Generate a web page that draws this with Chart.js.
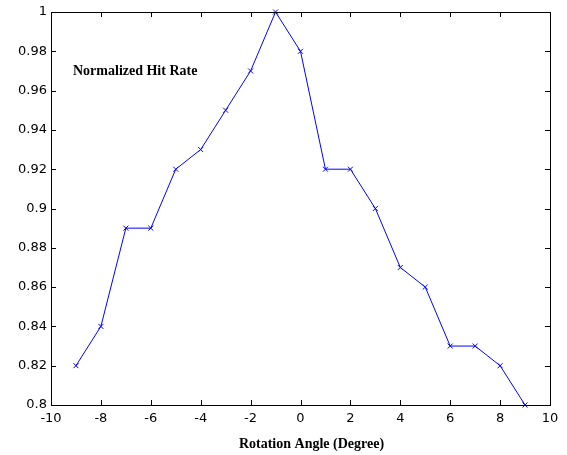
<!DOCTYPE html>
<html>
<head>
<meta charset="utf-8">
<script src="https://cdn.jsdelivr.net/npm/chart.js@4"></script>
<style>
  html, body { margin: 0; padding: 0; background: #fff; }
  #chart { display: block; }
</style>
</head>
<body>
<canvas id="chart" width="567" height="455"></canvas>
<script>
const angles = [-9, -8, -7, -6, -5, -4, -3, -2, -1, 0, 1, 2, 3, 4, 5, 6, 7, 8, 9];
const hitRate = [0.82, 0.84, 0.89, 0.89, 0.92, 0.93, 0.95, 0.97, 1.00, 0.98,
                 0.92, 0.92, 0.90, 0.87, 0.86, 0.83, 0.83, 0.82, 0.80];
const xTicks = [-10, -8, -6, -4, -2, 0, 2, 4, 6, 8, 10];
const yTicks = [0.8, 0.82, 0.84, 0.86, 0.88, 0.9, 0.92, 0.94, 0.96, 0.98, 1];

// box round the plot, inward ticks on all four sides, and the two text labels
const framePlugin = {
  id: 'frame',
  afterDraw(chart) {
    const { ctx, chartArea: a, scales: { x, y } } = chart;
    ctx.save();
    ctx.strokeStyle = '#000';
    ctx.lineWidth = 1;
    ctx.strokeRect(a.left + 0.5, a.top + 0.5, a.right - a.left, a.bottom - a.top);
    ctx.beginPath();
    const len = 5;
    xTicks.forEach(v => {
      const px = Math.round(x.getPixelForValue(v)) + 0.5;
      ctx.moveTo(px, a.bottom); ctx.lineTo(px, a.bottom - len);
      ctx.moveTo(px, a.top); ctx.lineTo(px, a.top + len);
    });
    yTicks.forEach(v => {
      const py = Math.round(y.getPixelForValue(v)) + 0.5;
      ctx.moveTo(a.left, py); ctx.lineTo(a.left + len, py);
      ctx.moveTo(a.right, py); ctx.lineTo(a.right - len, py);
    });
    ctx.stroke();

    ctx.fillStyle = '#000';
    ctx.font = 'bold 14px "Liberation Serif"';
    ctx.textBaseline = 'middle';
    ctx.textAlign = 'left';
    ctx.fillText('Normalized Hit Rate', a.left + 22, a.top + 59);
    ctx.textAlign = 'center';
    ctx.fillText('Rotation Angle (Degree)', (a.left + a.right) / 2 + 11, 444);
    ctx.restore();
  }
};

new Chart(document.getElementById('chart'), {
  type: 'line',
  data: {
    datasets: [{
      data: angles.map((a, i) => ({ x: a, y: hitRate[i] })),
      borderColor: '#0000ff',
      backgroundColor: '#0000ff',
      borderWidth: 1,
      tension: 0,
      pointStyle: 'crossRot',
      pointRadius: 3.5,
      pointBorderColor: '#0000ff',
      pointBorderWidth: 1,
      clip: false
    }]
  },
  options: {
    responsive: false,
    animation: false,
    layout: { padding: { top: 12, right: 17, bottom: 0, left: 0 } },
    plugins: {
      legend: { display: false },
      tooltip: { enabled: false }
    },
    scales: {
      x: {
        type: 'linear',
        min: -10,
        max: 10,
        afterFit(s) { s.height = 50; },
        afterBuildTicks(s) { s.ticks = xTicks.map(v => ({ value: v })); },
        grid: { display: false, drawTicks: false },
        border: { display: false },
        ticks: {
          color: '#000',
          padding: 6,
          font: { family: 'DejaVu Sans', size: 13 },
          callback: v => String(v)
        }
      },
      y: {
        type: 'linear',
        min: 0.8,
        max: 1,
        afterFit(s) { s.width = 51; },
        afterBuildTicks(s) { s.ticks = yTicks.map(v => ({ value: v })); },
        grid: { display: false, drawTicks: false },
        border: { display: false },
        ticks: {
          color: '#000',
          padding: 4,
          font: { family: 'DejaVu Sans', size: 13 },
          callback: v => String(Math.round(v * 100) / 100)
        }
      }
    }
  },
  plugins: [framePlugin]
});
</script>
</body>
</html>
